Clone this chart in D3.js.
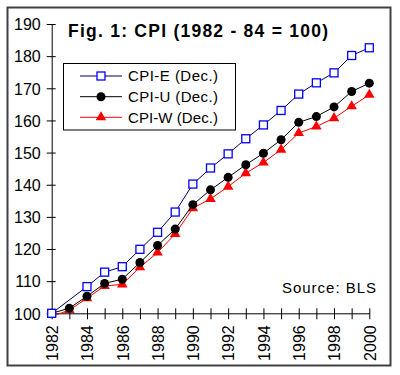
<!DOCTYPE html>
<html><head><meta charset="utf-8">
<script src="https://cdn.jsdelivr.net/npm/d3@7"></script>
<style>html,body{margin:0;padding:0;background:#fff;}svg{display:block;}</style>
</head><body>
<script>
const years = [1982,1983,1984,1985,1986,1987,1988,1989,1990,1991,1992,1993,1994,1995,1996,1997,1998,1999,2000];
const cpiE = [100,null,108.3,112.8,114.5,119.9,125.2,131.5,140.2,145.2,149.6,154.3,158.6,163.1,168.2,171.7,174.8,180.2,182.6];
const cpiU = [100,101.6,105.3,109.3,110.6,115.8,121.1,126.2,133.8,138.4,142.3,146.2,149.8,154.0,159.4,161.2,164.2,169.0,171.6];
const cpiW = [99,101.0,104.7,108.5,109.0,114.3,118.9,124.7,132.7,135.6,139.4,143.6,146.9,150.9,156.1,158.1,160.7,164.4,168.0];
const yTicks = [100,110,120,130,140,150,160,170,180,190];
const xLabels = [1982,1984,1986,1988,1990,1992,1994,1996,1998,2000];
const seriesNames = ["CPI-E (Dec.)","CPI-U (Dec.)","CPI-W (Dec.)"];
const titleText = "Fig. 1: CPI (1982 - 84 = 100)";
const sourceText = "Source: BLS";

const W = 400, H = 375;
const svg = d3.select("body").append("svg").attr("width", W).attr("height", H);
const font = "Arial, 'Liberation Sans', sans-serif";

svg.append("rect").attr("x", 7.5).attr("y", 7.5).attr("width", 383).attr("height", 358)
  .attr("fill", "#fff").attr("stroke", "#404040").attr("stroke-width", 2);

const x = d3.scaleLinear().domain([1982, 2000]).range([51.7, 369.3]);
const y = d3.scaleLinear().domain([100, 190]).range([313.3, 24]);

// Y axis
const yAxis = d3.axisLeft(y).tickValues(yTicks).tickSizeInner(0).tickSizeOuter(0).tickPadding(0).tickFormat("");
const gy = svg.append("g").attr("transform", `translate(${x(1982)},0)`).call(yAxis);
gy.select(".domain").attr("stroke", "#000");
gy.selectAll(".tick").append("line").attr("x1", -5).attr("x2", 4).attr("stroke", "#000");
gy.selectAll(".tick").append("text").attr("x", -11).attr("dy", "0.36em")
  .attr("text-anchor", "end").attr("fill", "#000")
  .style("font-family", font).style("font-size", "16px").text(d => d);

// X axis
const xAxis = d3.axisBottom(x).tickValues(years).tickSizeInner(0).tickSizeOuter(0).tickFormat("");
const gx = svg.append("g").attr("transform", `translate(0,${y(100)})`).call(xAxis);
gx.select(".domain").attr("stroke", "#000");
gx.selectAll(".tick").append("line").attr("y1", -5).attr("y2", 6).attr("stroke", "#000");
gx.selectAll(".tick").filter(d => xLabels.includes(d)).append("text")
  .attr("transform", "translate(0,12) rotate(-90)")
  .attr("x", 0).attr("y", 0).attr("dy", "0.36em").attr("text-anchor", "end").attr("fill", "#000")
  .style("font-family", font).style("font-size", "16px").text(d => d);

// Title
svg.append("text").attr("x", 68).attr("y", 37).attr("fill", "#000")
  .attr("textLength", 260).attr("lengthAdjust", "spacing")
  .style("font-family", font).style("font-size", "17.5px").style("font-weight", "bold").text(titleText);

// Source
svg.append("text").attr("x", 282).attr("y", 293).attr("fill", "#000")
  .attr("textLength", 94).attr("lengthAdjust", "spacing")
  .style("font-family", font).style("font-size", "15px").text(sourceText);

const mk = (vals) => years.map((yr, i) => ({yr, v: vals[i]}));
const line = d3.line().defined(d => d.v != null).x(d => x(d.yr)).y(d => y(d.v));

const triSym = d3.symbol().type(d3.symbolTriangle).size(48);

// CPI-W
const dW = mk(cpiW);
svg.append("path").datum(dW).attr("d", line).attr("fill", "none").attr("stroke", "#ff0000").attr("stroke-width", 1);
svg.selectAll(".triW").data(dW.filter(d => d.yr > 1982)).enter().append("path")
  .attr("transform", d => `translate(${x(d.yr)},${y(d.v)})`).attr("d", triSym).attr("fill", "#ff0000");

// CPI-U
const dU = mk(cpiU);
svg.append("path").datum(dU).attr("d", line).attr("fill", "none").attr("stroke", "#000").attr("stroke-width", 1);
svg.selectAll(".dotU").data(dU.filter(d => d.yr > 1982)).enter().append("circle")
  .attr("cx", d => x(d.yr)).attr("cy", d => y(d.v)).attr("r", 4.5).attr("fill", "#000");

// CPI-E
const dE = mk(cpiE).filter(d => d.v != null);
svg.append("path").datum(dE).attr("d", line).attr("fill", "none").attr("stroke", "#000060").attr("stroke-width", 1);
svg.selectAll(".sqE").data(dE).enter().append("rect")
  .attr("x", d => x(d.yr) - 4).attr("y", d => y(d.v) - 4).attr("width", 8).attr("height", 8)
  .attr("fill", "#fff").attr("stroke", "#0000ff").attr("stroke-width", 1.3);

// Legend
const lg = svg.append("g");
lg.append("rect").attr("x", 63.5).attr("y", 63.5).attr("width", 172).attr("height", 66.5)
  .attr("fill", "#fff").attr("stroke", "#000").attr("stroke-width", 1);
const rowsY = [76, 96.7, 117.3];
const lineCols = ["#000060", "#000", "#ff0000"];
seriesNames.forEach((name, i) => {
  const ry = rowsY[i];
  lg.append("line").attr("x1", 80).attr("x2", 122).attr("y1", ry).attr("y2", ry).attr("stroke", lineCols[i]);
  if (i === 0) {
    lg.append("rect").attr("x", 97).attr("y", ry - 4).attr("width", 8).attr("height", 8)
      .attr("fill", "#fff").attr("stroke", "#0000ff").attr("stroke-width", 1.3);
  } else if (i === 1) {
    lg.append("circle").attr("cx", 101).attr("cy", ry).attr("r", 4.5).attr("fill", "#000");
  } else {
    lg.append("path").attr("transform", `translate(101,${ry})`).attr("d", triSym).attr("fill", "#ff0000");
  }
  lg.append("text").attr("x", 128).attr("y", ry).attr("dy", "0.36em").attr("fill", "#000")
    .attr("textLength", 90).attr("lengthAdjust", "spacing")
    .style("font-family", font).style("font-size", "15px").text(name);
});
</script>
</body></html>
